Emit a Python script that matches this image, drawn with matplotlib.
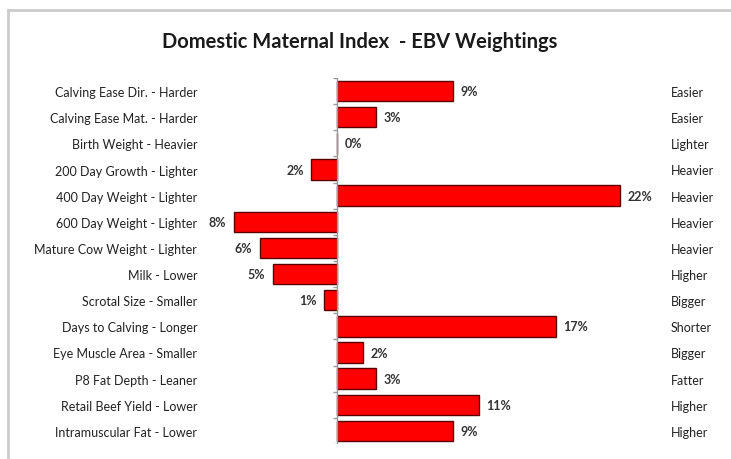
import numpy as np
import matplotlib
matplotlib.use("Agg")
import matplotlib.pyplot as plt
from matplotlib.lines import Line2D

traits = ["Calving Ease Dir. - Harder", "Calving Ease Mat. - Harder", "Birth Weight - Heavier",
          "200 Day Growth - Lighter", "400 Day Weight - Lighter", "600 Day Weight - Lighter",
          "Mature Cow Weight - Lighter", "Milk - Lower", "Scrotal Size - Smaller",
          "Days to Calving - Longer", "Eye Muscle Area - Smaller", "P8 Fat Depth - Leaner",
          "Retail Beef Yield - Lower", "Intramuscular Fat - Lower"]
favourable = ["Easier", "Easier", "Lighter", "Heavier", "Heavier", "Heavier", "Heavier",
              "Higher", "Bigger", "Shorter", "Bigger", "Fatter", "Higher", "Higher"]
weights = [9, 3, 0, -2, 22, -8, -6, -5, -1, 17, 2, 3, 11, 9]

plt.rcParams['font.family'] = ['Lato', 'DejaVu Sans']

W, H = 731, 460
fig = plt.figure(figsize=(W / 100, H / 100), dpi=100)

# plot area placed in pixel terms
left, right, top, bottom = 232, 665, 79, 445
ax = fig.add_axes([left / W, 1 - bottom / H, (right - left) / W, (bottom - top) / H])

y = np.arange(len(traits))
ax.barh(y, weights, height=0.78, color="#ff0000", edgecolor="#5a0000", linewidth=1.0)

ax.set_xlim(-8.165, 25.5)
ax.set_ylim(len(traits) - 0.5, -0.5)

for sp in ax.spines.values():
    sp.set_visible(False)
ax.set_xticks([])
ax.set_yticks(y)
ax.set_yticklabels(traits, fontsize=9, color="#222222")
ax.tick_params(axis="y", length=0, pad=25)

# zero axis line with category boundary ticks
ax.axvline(0, color="#999999", linewidth=1)
ax.hlines(np.arange(len(traits) + 1) - 0.5, -0.3, 0, color="#999999", linewidth=1)

ax2 = ax.twinx()
ax2.set_ylim(ax.get_ylim())
ax2.set_yticks(y)
ax2.set_yticklabels(favourable, fontsize=9, color="#222222")
ax2.tick_params(axis="y", length=0, pad=4)
for sp in ax2.spines.values():
    sp.set_visible(False)

for yi, w in zip(y, weights):
    off = 5.5 if w >= 0 else -5.5
    ax.annotate(f"{abs(w)}%", (w, yi), xytext=(off, 0), textcoords="offset points",
                ha="left" if w >= 0 else "right", va="center",
                fontsize=9, fontweight="bold", color="#333333")

fig.text(360 / W, 1 - 42 / H, "Domestic Maternal Index  - EBV Weightings",
         ha="center", va="center", fontsize=14.5, fontweight="bold", color="#1a1a1a")

# chart area border (top and left edges visible)
fig.add_artist(Line2D([8 / W, 1], [1 - 11 / H, 1 - 11 / H], color="#cccccc", linewidth=2))
fig.add_artist(Line2D([8 / W, 8 / W], [0, 1 - 11 / H], color="#cccccc", linewidth=2))

fig.savefig("out.png", dpi=100)
